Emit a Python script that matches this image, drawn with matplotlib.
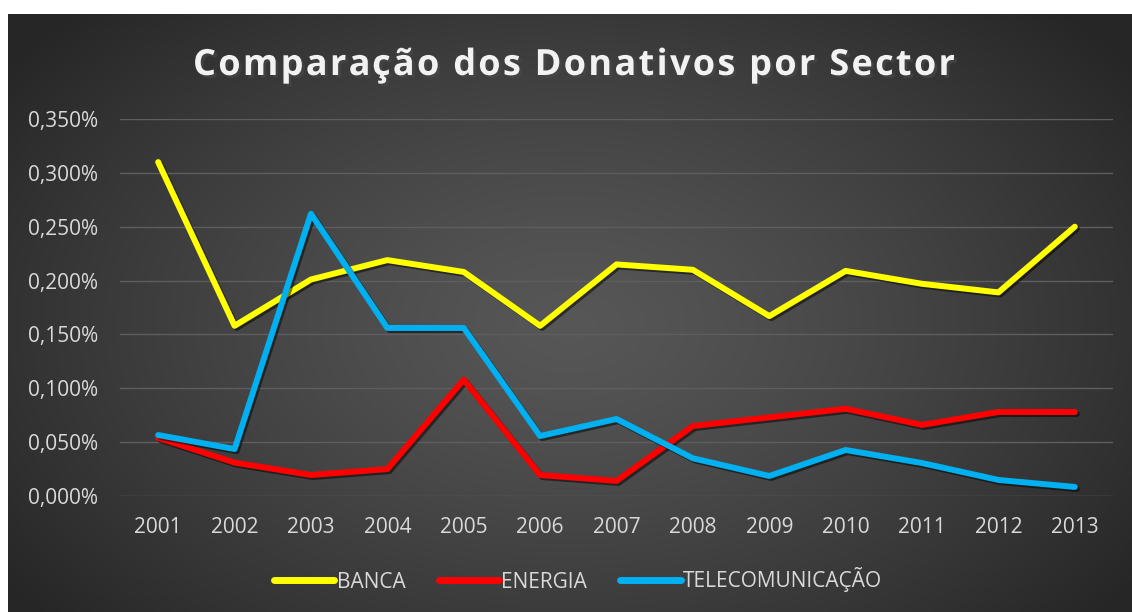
import numpy as np
import matplotlib
matplotlib.use("Agg")
from matplotlib import pyplot as plt
from matplotlib import patheffects as pe
from matplotlib.ticker import FuncFormatter

years = ['2001', '2002', '2003', '2004', '2005', '2006', '2007',
         '2008', '2009', '2010', '2011', '2012', '2013']
banca = [0.310, 0.158, 0.201, 0.219, 0.208, 0.158, 0.215,
         0.210, 0.167, 0.209, 0.197, 0.189, 0.250]
energia = [0.054, 0.031, 0.0195, 0.025, 0.108, 0.0195, 0.014,
           0.065, 0.073, 0.081, 0.066, 0.078, 0.078]
telecom = [0.0566, 0.0436, 0.262, 0.156, 0.156, 0.0557, 0.0715,
           0.035, 0.0186, 0.0427, 0.0306, 0.0149, 0.0084]
series = [('BANCA', banca, '#FFFF00'),
          ('ENERGIA', energia, '#FF0000'),
          ('TELECOMUNICAÇÃO', telecom, '#00B0F0')]
title = 'Comparação dos Donativos por Sector'

plt.rcParams['font.family'] = ['Open Sans', 'DejaVu Sans']

W, H = 1132, 612
fig = plt.figure(figsize=(W / 100, H / 100), dpi=100)
fig.patch.set_facecolor('white')

# radial gradient background (chart area starts below/right of white strip)
left_px, top_px = 8, 14
bg = fig.add_axes([left_px / W, 0, 1 - left_px / W, 1 - top_px / H])
yy, xx = np.mgrid[0:1:300j, 0:1:600j]
r = np.sqrt(((xx - 0.5) / 0.62) ** 2 + ((yy - 0.52) / 0.75) ** 2)
r = np.clip(r, 0, 1)
val = 0.34 - (0.34 - 0.15) * r ** 1.3
img = np.dstack([val, val, val])
bg.imshow(img, aspect='auto', extent=[0, 1, 0, 1], interpolation='bilinear')
bg.set_axis_off()

ax = fig.add_axes([120 / W, 1 - 496 / H, (1113 - 120) / W, (496 - 119) / H])
ax.patch.set_alpha(0)
x = np.arange(len(years))
shadow = [pe.SimpleLineShadow(offset=(1.5, -1.5), alpha=0.5, shadow_color='black'), pe.Normal()]
for name, vals, col in series:
    ax.plot(x, vals, color=col, lw=4.3, solid_capstyle='round',
            solid_joinstyle='round', label=name, path_effects=shadow)

ax.set_xlim(-0.5, len(years) - 0.5)
ax.set_ylim(0, 0.35)
ax.set_yticks(np.arange(0, 0.351, 0.05))
ax.yaxis.set_major_formatter(FuncFormatter(lambda v, p: f"{v:.3f}%".replace('.', ',')))
ax.set_xticks(x)
ax.set_xticklabels(years)
ax.grid(axis='y', color='#5e5e5e', lw=1)
ax.set_axisbelow(True)
for s in ax.spines.values():
    s.set_visible(False)
ax.tick_params(length=0, colors='#d9d9d9', labelsize=15)
ax.tick_params(axis='y', pad=16)
ax.tick_params(axis='x', pad=15)

# title with letter spacing: place characters one by one
renderer = fig.canvas.get_renderer()
tkw = dict(fontsize=26, fontweight='bold', color='#f2f2f2', va='baseline', ha='left',
           path_effects=[pe.withSimplePatchShadow(offset=(2, -2), alpha=0.6)])

def text_w(s):
    t = fig.text(0, 0, s + '|', **tkw)
    w = t.get_window_extent(renderer).width
    t.remove()
    t = fig.text(0, 0, '|', **tkw)
    w -= t.get_window_extent(renderer).width
    t.remove()
    return w

t_left, t_right, t_base = 193, 955, 75
natural = text_w(title)
spacing = (t_right - t_left - natural) / (len(title) - 1)
for i, ch in enumerate(title):
    xpos = t_left + text_w(title[:i]) + i * spacing
    fig.text(xpos / W, 1 - t_base / H, ch, **tkw)

leg = fig.legend(loc='center', bbox_to_anchor=(578 / W, 1 - 580 / H), ncol=3, frameon=False,
                 fontsize=15, handlelength=2.9, columnspacing=1.6, handletextpad=0.1)
for t in leg.get_texts():
    t.set_color('#d9d9d9')
for h in leg.legend_handles:
    h.set_linewidth(5)
    h.set_solid_capstyle('round')
    h.set_path_effects([])

fig.savefig('out.png', dpi=100, facecolor=fig.get_facecolor())
